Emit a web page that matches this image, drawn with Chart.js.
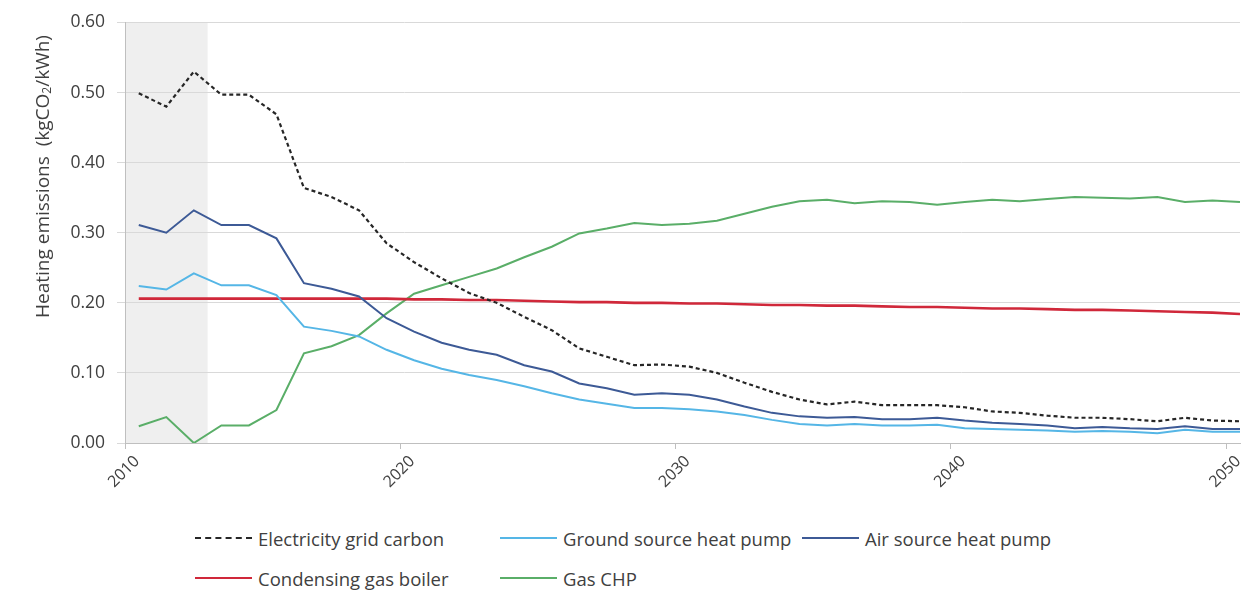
<!DOCTYPE html>
<html>
<head>
<meta charset="utf-8">
<script src="https://cdn.jsdelivr.net/npm/chart.js@4.4.0/dist/chart.umd.min.js"></script>
<style>
    body { margin: 0; background: #fff; font-family: 'Open Sans', sans-serif; }
    #wrap { position: relative; width: 1246px; height: 591px; }
    #chartBox { position: absolute; left: 0; top: 0; width: 1246px; height: 510px; }
    #yTitle {
        position: absolute; left: 29px; top: 22px; width: 28px; height: 310px;
        writing-mode: vertical-rl; transform: rotate(180deg);
        text-align: center; white-space: nowrap; font-size: 19px; color: #404040;
    }
    #yTitle sub { font-size: 12px; }
    .legend-item {
        position: absolute; display: flex; align-items: center;
        font-size: 18.5px; color: #404040; white-space: nowrap;
    }
    .legend-item .swatch { width: 57px; height: 0; margin-right: 6px; }
</style>
</head>
<body>
<div id="wrap">
    <div id="chartBox"><canvas id="flowChart"></canvas></div>
    <div id="yTitle">Heating emissions&nbsp; (kgCO<sub>2</sub>/kWh)</div>
    <div id="legend"></div>
</div>
<script>
// Data
const years = [];
for (let y = 2010; y <= 2050; y++) years.push(y);

const gridCarbon = [0.499, 0.480, 0.530, 0.497, 0.497, 0.469, 0.364, 0.351, 0.332, 0.285,
    0.258, 0.235, 0.214, 0.200, 0.180, 0.161, 0.135, 0.123, 0.111, 0.112,
    0.109, 0.100, 0.086, 0.073, 0.062, 0.055, 0.059, 0.054, 0.054, 0.054,
    0.051, 0.045, 0.043, 0.039, 0.036, 0.036, 0.034, 0.031, 0.036, 0.032, 0.031];

const groundSource = [0.224, 0.219, 0.242, 0.225, 0.225, 0.211, 0.166, 0.160, 0.152, 0.133,
    0.118, 0.106, 0.097, 0.090, 0.081, 0.071, 0.062, 0.056, 0.050, 0.050,
    0.048, 0.045, 0.040, 0.033, 0.027, 0.025, 0.027, 0.025, 0.025, 0.026,
    0.021, 0.020, 0.019, 0.018, 0.016, 0.017, 0.016, 0.014, 0.019, 0.016, 0.016];

const airSource = [0.311, 0.300, 0.332, 0.311, 0.311, 0.292, 0.228, 0.220, 0.209, 0.178,
    0.159, 0.143, 0.133, 0.126, 0.111, 0.102, 0.085, 0.078, 0.069, 0.071,
    0.069, 0.062, 0.052, 0.043, 0.038, 0.036, 0.037, 0.034, 0.034, 0.036,
    0.032, 0.029, 0.027, 0.025, 0.021, 0.023, 0.021, 0.020, 0.024, 0.020, 0.020];

const gasBoiler = [0.206, 0.206, 0.206, 0.206, 0.206, 0.206, 0.206, 0.206, 0.206, 0.206,
    0.205, 0.205, 0.204, 0.204, 0.203, 0.202, 0.201, 0.201, 0.200, 0.200,
    0.199, 0.199, 0.198, 0.197, 0.197, 0.196, 0.196, 0.195, 0.194, 0.194,
    0.193, 0.192, 0.192, 0.191, 0.190, 0.190, 0.189, 0.188, 0.187, 0.186, 0.184];

const gasCHP = [0.024, 0.037, 0.000, 0.025, 0.025, 0.047, 0.128, 0.138, 0.154, 0.185,
    0.213, 0.225, 0.237, 0.249, 0.265, 0.280, 0.299, 0.306, 0.314, 0.311,
    0.313, 0.317, 0.327, 0.337, 0.345, 0.347, 0.342, 0.345, 0.344, 0.340,
    0.344, 0.347, 0.345, 0.348, 0.351, 0.350, 0.349, 0.351, 0.344, 0.346, 0.344];

const xTicks = [2010, 2020, 2030, 2040, 2050];
const yTicks = [0, 0.1, 0.2, 0.3, 0.4, 0.5, 0.6];
const historicRange = [2010, 2013];

// values are annual, plotted at mid-year
const toPoints = arr => arr.map((v, i) => ({ x: years[i] + 0.5, y: v }));

const series = [
    { label: 'Electricity grid carbon', data: gridCarbon, color: '#262626', dash: [4, 3], width: 2.2, col: 0, row: 0 },
    { label: 'Ground source heat pump', data: groundSource, color: '#55b6e6', dash: [], width: 2, col: 1, row: 0 },
    { label: 'Air source heat pump', data: airSource, color: '#3d5a96', dash: [], width: 2, col: 2, row: 0 },
    { label: 'Condensing gas boiler', data: gasBoiler, color: '#d0283a', dash: [], width: 2.6, col: 0, row: 1 },
    { label: 'Gas CHP', data: gasCHP, color: '#5aae68', dash: [], width: 2, col: 1, row: 1 }
];

// Shaded historic period
const shadePlugin = {
    id: 'shade',
    beforeDraw(chart) {
        const { ctx, chartArea, scales } = chart;
        const x0 = scales.x.getPixelForValue(historicRange[0]);
        const x1 = scales.x.getPixelForValue(historicRange[1]);
        ctx.save();
        ctx.fillStyle = '#efefef';
        ctx.fillRect(x0, chartArea.top, x1 - x0, chartArea.bottom - chartArea.top);
        ctx.restore();
    }
};

const ctx = document.getElementById('flowChart').getContext('2d');
new Chart(ctx, {
    type: 'line',
    data: {
        datasets: series.map(s => ({
            label: s.label,
            data: toPoints(s.data),
            borderColor: s.color,
            borderDash: s.dash,
            borderWidth: s.width,
            pointRadius: 0,
            tension: 0,
            fill: false
        }))
    },
    options: {
        responsive: true,
        maintainAspectRatio: false,
        animation: false,
        layout: { padding: { top: 18, right: 6, left: 0, bottom: 0 } },
        plugins: {
            legend: { display: false },
            tooltip: { enabled: false }
        },
        scales: {
            x: {
                type: 'linear',
                min: 2010,
                max: 2050.5,
                afterBuildTicks: axis => { axis.ticks = xTicks.map(v => ({ value: v })); },
                afterFit: axis => { axis.height = 67; },
                grid: { drawOnChartArea: false, drawTicks: true, tickLength: 6, color: '#bfbfbf' },
                border: { color: '#bfbfbf', width: 1 },
                ticks: {
                    minRotation: 45,
                    maxRotation: 45,
                    labelOffset: 12,
                    padding: 3,
                    color: '#404040',
                    font: { family: 'Open Sans', size: 16 },
                    callback: v => String(v)
                }
            },
            y: {
                min: 0,
                max: 0.6,
                afterBuildTicks: axis => { axis.ticks = yTicks.map(v => ({ value: v })); },
                afterFit: axis => { axis.width = 125; },
                grid: { color: '#d9d9d9', tickLength: 8, drawTicks: true },
                border: { color: '#bfbfbf', width: 1 },
                ticks: {
                    padding: 12,
                    color: '#404040',
                    font: { family: 'Open Sans', size: 17.5 },
                    callback: v => v.toFixed(2)
                }
            }
        }
    },
    plugins: [shadePlugin]
});

// Legend (three-column grid, two rows)
const legendCols = [195, 500, 802];
const legendRows = [538, 578];
const legendEl = document.getElementById('legend');
series.forEach(s => {
    const item = document.createElement('div');
    item.className = 'legend-item';
    item.style.left = legendCols[s.col] + 'px';
    item.style.top = (legendRows[s.row] - 13) + 'px';
    item.style.height = '26px';
    const sw = document.createElement('span');
    sw.className = 'swatch';
    sw.style.borderTop = s.dash.length ? `2px dashed ${s.color}` : `2px solid ${s.color}`;
    item.appendChild(sw);
    item.appendChild(document.createTextNode(s.label));
    legendEl.appendChild(item);
});
</script>
</body>
</html>
